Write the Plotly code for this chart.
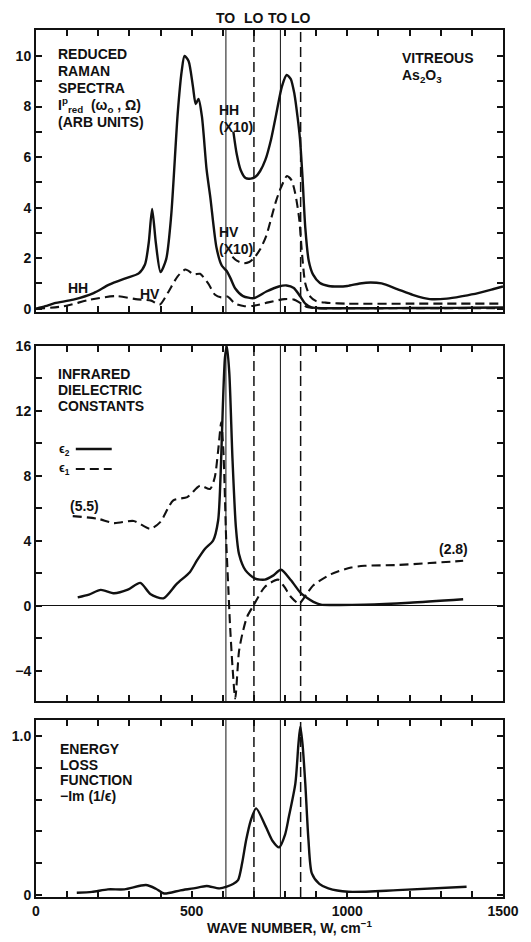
import plotly.graph_objects as go

# ---------------- data ----------------
# Reduced Raman spectra (top panel)
hh_w = [0, 30, 60, 120, 185, 235, 290, 330, 350, 362, 373, 385, 400, 418, 434, 455, 468, 477, 490, 504,
        513, 522, 533, 548, 560, 580, 597, 612, 625, 640, 665, 700, 740, 780, 805, 828, 848, 865, 885, 900,
        950, 1000, 1100, 1200, 1300, 1400, 1500]
hh_v = [0, 0.1, 0.22, 0.36, 0.62, 0.95, 1.21, 1.4, 1.75, 2.6, 3.95, 2.6, 1.45, 1.95, 3.65, 7.7, 9.4, 10.0, 9.8, 8.8,
        8.1, 8.3, 7.6, 5.5, 4.4, 2.4, 1.7, 1.5, 1.2, 0.8, 0.5, 0.42, 0.68, 0.88, 0.92, 0.82, 0.5, 0.2, 0.05, 0.03,
        0.02, 0.02, 0.02, 0.03, 0.03, 0.04, 0.05]

hh10_w = [634, 645, 657, 673, 690, 705, 720, 737, 755, 770, 790, 805, 818, 830, 840, 848, 856, 865, 876, 890,
          912, 940, 970, 1000, 1040, 1075, 1110, 1160, 1210, 1265, 1320, 1370, 1420, 1470, 1500]
hh10_v = [7.0, 6.1, 5.5, 5.17, 5.15, 5.22, 5.45, 5.9, 6.7, 7.6, 8.8, 9.25, 9.1, 8.5, 7.6, 6.7, 5.2, 3.2, 1.9, 1.35,
          1.02, 0.9, 0.88, 0.9, 1.0, 1.04, 1.0, 0.78, 0.55, 0.38, 0.4, 0.5, 0.62, 0.78, 0.88]

hv_w = [0, 90, 175, 257, 320, 370, 397, 423, 455, 480, 507, 527, 553, 575, 595, 615, 640, 670, 700, 746,
        798, 829, 850, 870, 900, 1000, 1200, 1500]
hv_v = [0, 0.1, 0.36, 0.5, 0.38, 0.32, 0.16, 0.62, 1.28, 1.55, 1.36, 1.38, 1.0, 0.55, 0.45, 0.48, 0.2, 0.1, 0.12, 0.25,
        0.38, 0.36, 0.22, 0.07, 0.02, 0.02, 0.02, 0.02]

hv10_w = [631, 645, 668, 685, 700, 720, 740, 756, 772, 787, 806, 820, 832, 845, 855, 865, 881, 900, 930, 1000, 1200, 1500]
hv10_v = [2.06, 1.9, 1.8, 1.85, 2.0, 2.35, 2.9, 3.6, 4.3, 4.8, 5.25, 5.1, 4.6, 3.6, 2.1, 1.0, 0.48, 0.3, 0.24, 0.2, 0.2, 0.2]

# Infrared dielectric constants (middle panel)
e2_w = [134, 170, 208, 251, 295, 335, 367, 409, 452, 494, 517, 543, 569, 585, 593, 600, 607, 613, 621, 631,
        642, 652, 673, 704, 735, 760, 787, 819, 850, 870, 891, 915, 960, 1055, 1200, 1372]
e2_v = [0.53, 0.7, 0.99, 0.78, 1.0, 1.42, 0.74, 0.47, 1.36, 2.08, 2.8, 3.52, 4.03, 5.26, 8.1, 12.2, 15.3, 16.0, 14.3, 9.1,
        4.85, 3.2, 2.19, 1.68, 1.62, 1.85, 2.23, 1.58, 0.8, 0.5, 0.25, 0.08, 0.06, 0.08, 0.2, 0.41]

e1_w = [118, 198, 251, 314, 367, 399, 441, 486, 527, 559, 574, 585, 595, 602, 611, 618, 623, 631, 640, 652,
        663, 678, 699, 735, 777, 798, 819, 845, 870, 891, 948, 1012, 1055, 1160, 1265, 1372]
e1_v = [5.53, 5.37, 5.1, 5.23, 4.75, 5.16, 6.5, 6.7, 7.4, 7.2, 7.9, 9.55, 11.3, 9.5, 4.0, 1.0, -1.1, -3.7, -5.7, -2.8,
        -1.7, -0.67, 0.04, 1.17, 1.62, 1.17, 0.55, 0.15, 0.76, 1.27, 1.96, 2.37, 2.47, 2.52, 2.64, 2.78]

# Energy loss function (bottom panel)
elf_w = [131, 180, 231, 284, 353, 385, 411, 464, 506, 548, 590, 633, 649, 662, 675, 690, 707, 738, 760, 781,
         800, 812, 833, 843, 849, 856, 865, 875, 886, 910, 939, 1003, 1161, 1383]
elf_v = [0.015, 0.02, 0.036, 0.036, 0.063, 0.04, 0.01, 0.03, 0.042, 0.057, 0.042, 0.07, 0.094, 0.2, 0.346, 0.47, 0.545,
         0.43, 0.34, 0.30, 0.38, 0.49, 0.70, 0.95, 1.06, 0.95, 0.70, 0.35, 0.136, 0.07, 0.042, 0.021, 0.031, 0.052]

# TO / LO mode frequencies
mode_w = [610, 700, 785, 850]
mode_lbl = ["TO", "LO", "TO", "LO"]
mode_lbl_w = [610, 700, 776, 852]
mode_dash = ["solid", "dash", "solid", "dash"]

# labelled ticks and minor tick steps
x_ticks = [0, 500, 1000, 1500]
x_minor = 100
y1_ticks = [0, 2, 4, 6, 8, 10]
y1_minor = 1
y2_ticks = [-4, 0, 4, 8, 12, 16]
y2_text = ["\u22124", "0", "4", "8", "12", "16"]
y2_minor = 2
y3_ticks = [0, 1.0]
y3_text = ["0", "1.0"]
y3_minor = 0.2

# ---------------- layout geometry ----------------
W, H = 531, 942
ML, MR, MT, MB = 34, 16, 30, 45
PW, PH = W - ML - MR, H - MT - MB


def px(xp):
    return (xp - ML) / PW


def py(yp):
    return (H - MB - yp) / PH


FONT = "Liberation Sans, Arial, Helvetica, sans-serif"
BLACK = "#111"
FS = 14

fig = go.Figure()

solid = dict(color=BLACK, width=2.4, shape="spline", smoothing=0.7)
dashed = dict(color=BLACK, width=2.1, dash="9px,5px", shape="spline", smoothing=0.7)

fig.add_trace(go.Scatter(x=hh_w, y=hh_v, mode="lines", line=solid, xaxis="x", yaxis="y"))
fig.add_trace(go.Scatter(x=hh10_w, y=hh10_v, mode="lines", line=solid, xaxis="x", yaxis="y"))
fig.add_trace(go.Scatter(x=hv_w, y=hv_v, mode="lines", line=dashed, xaxis="x", yaxis="y"))
fig.add_trace(go.Scatter(x=hv10_w, y=hv10_v, mode="lines", line=dashed, xaxis="x", yaxis="y"))

fig.add_trace(go.Scatter(x=e2_w, y=e2_v, mode="lines", line=solid, xaxis="x2", yaxis="y2"))
fig.add_trace(go.Scatter(x=e1_w, y=e1_v, mode="lines", line=dashed, xaxis="x2", yaxis="y2"))

fig.add_trace(go.Scatter(x=elf_w, y=elf_v, mode="lines", line=solid, xaxis="x3", yaxis="y3"))

tickfont = dict(family=FONT, size=FS, color=BLACK, weight="bold")
tickstyle = dict(ticks="inside", ticklen=6, tickwidth=1.5, tickcolor=BLACK)
xcommon = dict(range=[0, 1500], showline=True, linecolor=BLACK, linewidth=2, mirror="ticks",
               tickvals=x_ticks, minor=dict(tickstyle, dtick=x_minor, tick0=0, showgrid=False),
               showgrid=False, zeroline=False, tickfont=tickfont, domain=[0, 1], **tickstyle)
ycommon = dict(showline=True, linecolor=BLACK, linewidth=2, mirror="ticks",
               showgrid=False, tickfont=tickfont, **tickstyle)

dom1 = [py(312), 1.0]
dom2 = [py(701), py(346)]
dom3 = [0.0, py(720)]

fig.update_layout(
    width=W, height=H, margin=dict(l=ML, r=MR, t=MT, b=MB),
    paper_bgcolor="white", plot_bgcolor="white", showlegend=False,
    xaxis=dict(xcommon, anchor="y", showticklabels=False),
    xaxis2=dict(xcommon, anchor="y2", showticklabels=False),
    xaxis3=dict(xcommon, anchor="y3"),
    yaxis=dict(ycommon, domain=dom1, anchor="x", range=[-0.13, 11.03], tickvals=y1_ticks,
               minor=dict(tickstyle, dtick=y1_minor, tick0=0, showgrid=False), zeroline=False),
    yaxis2=dict(ycommon, domain=dom2, anchor="x2", range=[-5.85, 16.0], tickvals=y2_ticks,
                ticktext=y2_text, minor=dict(tickstyle, dtick=y2_minor, tick0=0, showgrid=False),
                zeroline=True, zerolinecolor=BLACK, zerolinewidth=1.3),
    yaxis3=dict(ycommon, domain=dom3, anchor="x3", range=[-0.012, 1.10], tickvals=y3_ticks,
                ticktext=y3_text, minor=dict(tickstyle, dtick=y3_minor, tick0=0, showgrid=False),
                zeroline=False),
)

# vertical TO / LO lines through every panel
for xa, ya in (("x", "y"), ("x2", "y2"), ("x3", "y3")):
    for w, d in zip(mode_w, mode_dash):
        fig.add_shape(type="line", xref=xa, yref=ya + " domain", x0=w, x1=w, y0=0, y1=1,
                      line=dict(color=BLACK, width=1.0 if d == "solid" else 1.5,
                                dash="solid" if d == "solid" else "10px,5px"), layer="below")


def ann(text, xp, yp, xanchor="left", yanchor="middle", size=FS, xref="paper", xval=None):
    fig.add_annotation(text=text, x=(xval if xval is not None else px(xp)), y=py(yp),
                       xref=xref, yref="paper", xanchor=xanchor, yanchor=yanchor, align="left",
                       showarrow=False, font=dict(family=FONT, size=size, color=BLACK, weight="bold"))


def block(lines, xp, y0, dy):
    for i, t in enumerate(lines):
        ann(t, xp, y0 + i * dy)


for w, t in zip(mode_lbl_w, mode_lbl):
    ann(t, None, 18, xanchor="center", xref="x", xval=w)

block(["REDUCED", "RAMAN", "SPECTRA",
       "I<sup>p</sup><sub>red</sub>  (\u03c9<sub>o</sub> , \u03a9)", "(ARB UNITS)"], 55, 54, 17)
block(["VITREOUS", "As<sub>2</sub>O<sub>3</sub>"], 409, 58, 18)
ann("HH", 77, 288, xanchor="center")
ann("HV", 151, 294, xanchor="center")
block(["HH", "(X10)"], 220, 110, 17)
block(["HV", "(X10)"], 220, 232, 17)

block(["INFRARED", "DIELECTRIC", "CONSTANTS"], 55, 374, 16)
ann("\u03f5<sub>2</sub>", 56, 450, size=12)
ann("\u03f5<sub>1</sub>", 56, 469, size=12)
ann("(5.5)", 84, 506, xanchor="center")
ann("(2.8)", 464, 549, xanchor="center")

# legend swatches
fig.add_shape(type="line", xref="paper", yref="paper", x0=px(75), x1=px(112), y0=py(449), y1=py(449),
              line=dict(color=BLACK, width=2.4))
fig.add_shape(type="line", xref="paper", yref="paper", x0=px(75), x1=px(112), y0=py(469), y1=py(469),
              line=dict(color=BLACK, width=2.1, dash="9px,5px"))

block(["ENERGY", "LOSS", "FUNCTION", "\u2212Im (1/\u03f5)"], 57, 749, 15.6)

ann("WAVE NUMBER, W, cm<sup>\u22121</sup>", 295, 927, xanchor="center")

fig.write_html("out.html", config={"displayModeBar": False},
               post_script="document.body.style.margin='0px';document.body.style.overflow='hidden';")
